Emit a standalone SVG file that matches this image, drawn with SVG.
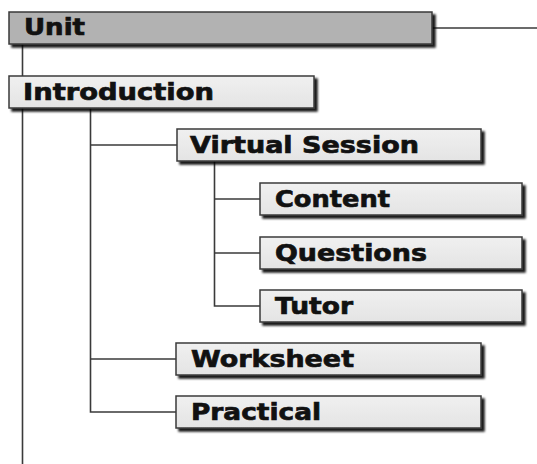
<svg xmlns="http://www.w3.org/2000/svg" width="537" height="464" viewBox="0 0 537 464">
<defs>
<filter id="sh" x="-5%" y="-20%" width="115%" height="160%">
<feGaussianBlur in="SourceAlpha" stdDeviation="1.2"/>
<feOffset dx="3" dy="3" result="b"/>
<feFlood flood-color="#000" flood-opacity="0.9"/>
<feComposite in2="b" operator="in" result="s"/>
<feMerge><feMergeNode in="s"/><feMergeNode in="SourceGraphic"/></feMerge>
</filter>
<linearGradient id="lg" x1="0" y1="0" x2="0" y2="1">
<stop offset="0" stop-color="#f0f0f0"/>
<stop offset="1" stop-color="#e4e4e4"/>
</linearGradient>
</defs>
<style>
.box{fill:url(#lg);stroke:#3a3a3a;stroke-width:1.5;filter:url(#sh)}
.top{fill:#b2b2b2}
.lbl{font-family:"DejaVu Sans",Verdana,sans-serif;font-weight:bold;font-size:23px;fill:#111;stroke:#111;stroke-width:0.7}
.ln{stroke:#3a3a3a;stroke-width:1.6;fill:none}
</style>
<rect width="537" height="464" fill="#fff"/>
<g id="connectors">
<line class="ln" x1="432" y1="28" x2="537" y2="28"/>
<line class="ln" x1="22.5" y1="44" x2="22.5" y2="464"/>
<polyline class="ln" points="90.5,108 90.5,412 176,412"/>
<line class="ln" x1="90.5" y1="145" x2="177" y2="145"/>
<line class="ln" x1="90.5" y1="359" x2="176" y2="359"/>
<polyline class="ln" points="214.5,161 214.5,306 260,306"/>
<line class="ln" x1="214.5" y1="199" x2="260" y2="199"/>
<line class="ln" x1="214.5" y1="253" x2="260" y2="253"/>
</g>
<g id="unit">
<rect class="box top" x="9" y="12" width="423" height="32"/>
<text class="lbl" x="24" y="35" textLength="61" lengthAdjust="spacingAndGlyphs">Unit</text>
</g>
<g id="introduction">
<rect class="box" x="9" y="76" width="305" height="32"/>
<text class="lbl" x="23" y="100" textLength="191" lengthAdjust="spacingAndGlyphs">Introduction</text>
</g>
<g id="virtual-session">
<rect class="box" x="177" y="129" width="304" height="32"/>
<text class="lbl" x="190" y="153" textLength="229" lengthAdjust="spacingAndGlyphs">Virtual Session</text>
</g>
<g id="content">
<rect class="box" x="260" y="183" width="262" height="32"/>
<text class="lbl" x="275" y="207" textLength="115" lengthAdjust="spacingAndGlyphs">Content</text>
</g>
<g id="questions">
<rect class="box" x="260" y="237" width="262" height="32"/>
<text class="lbl" x="275" y="261" textLength="152" lengthAdjust="spacingAndGlyphs">Questions</text>
</g>
<g id="tutor">
<rect class="box" x="260" y="290" width="262" height="32"/>
<text class="lbl" x="275" y="314" textLength="78" lengthAdjust="spacingAndGlyphs">Tutor</text>
</g>
<g id="worksheet">
<rect class="box" x="176" y="343" width="305" height="32"/>
<text class="lbl" x="191" y="367" textLength="163" lengthAdjust="spacingAndGlyphs">Worksheet</text>
</g>
<g id="practical">
<rect class="box" x="176" y="396" width="305" height="32"/>
<text class="lbl" x="191" y="420" textLength="130" lengthAdjust="spacingAndGlyphs">Practical</text>
</g>
</svg>
